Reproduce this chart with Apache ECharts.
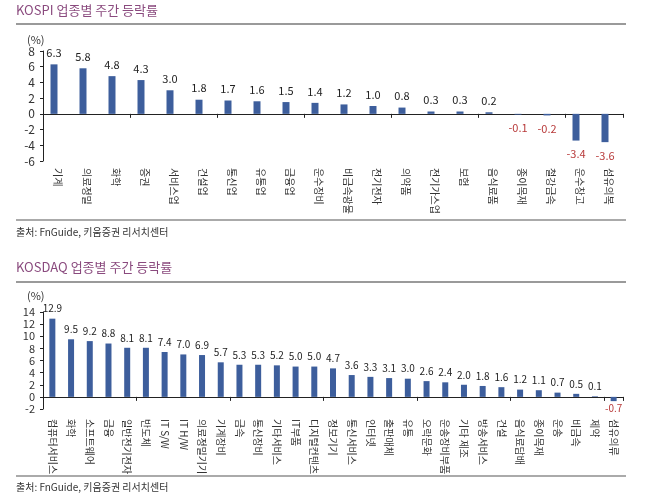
<!DOCTYPE html>
<html>
<head>
<meta charset="utf-8">
<script src="https://cdn.jsdelivr.net/npm/echarts@6/dist/echarts.min.js"></script>
<style>
html,body{margin:0;padding:0;background:#fff;}
#c{width:658px;height:499px;}
</style>
</head>
<body>
<div id="c"></div>
<script>
const kospiCats = ['기계','의료정밀','화학','증권','서비스업','건설업','통신업','유통업','금융업','운수장비','비금속광물','전기전자','의약품','전기가스업','보험','음식료품','종이목재','철강금속','운수창고','섬유의복'];
const kospiValues = [6.3,5.8,4.8,4.3,3.0,1.8,1.7,1.6,1.5,1.4,1.2,1.0,0.8,0.3,0.3,0.2,-0.1,-0.2,-3.4,-3.6];
const kosdaqCats = ['컴퓨터서비스','화학','소프트웨어','금융','일반전기전자','반도체','IT S/W','IT H/W','의료정밀기기','기계장비','금속','통신장비','기타서비스','IT부품','디지털컨텐츠','정보기기','통신서비스','인터넷','출판매체','유통','오락문화','운송장비부품','기타 제조','방송서비스','건설','음식료담배','종이목재','운송','비금속','제약','섬유의류'];
const kosdaqValues = [12.9,9.5,9.2,8.8,8.1,8.1,7.4,7.0,6.9,5.7,5.3,5.3,5.2,5.0,5.0,4.7,3.6,3.3,3.1,3.0,2.6,2.4,2.0,1.8,1.6,1.2,1.1,0.7,0.5,0.1,-0.7];
const kospiAxis = {min:-6, max:8, interval:2};
const kosdaqAxis = {min:-2, max:14, interval:2};

const FONT = '"Noto Sans CJK KR", "Noto Sans", sans-serif';
const BAR = '#3d5e9c';
const NEG = '#b83a3a';
const TITLE = '#8a4a7e';

function mkData(vals, fs, dpos, dneg){
  return vals.map(v => ({
    value: v,
    label: {
      color: v < 0 ? NEG : '#222',
      position: v < 0 ? 'bottom' : 'top',
      distance: v < 0 ? dneg : dpos,
      fontSize: fs
    }
  }));
}

function yAx(gi, ax, fs){
  return {
    type:'value', gridIndex:gi, min:ax.min, max:ax.max, interval:ax.interval,
    splitLine:{show:false},
    axisLine:{show:true, lineStyle:{color:'#222', width:1}},
    axisTick:{show:true, inside:false, length:3, lineStyle:{color:'#222'}},
    axisLabel:{fontFamily:FONT, fontSize:fs, color:'#333', margin:8}
  };
}
function xAxMain(gi, cats){
  return {
    type:'category', gridIndex:gi, data:cats,
    axisLine:{show:true, onZero:true, lineStyle:{color:'#222', width:1}},
    axisTick:{show:true, length:4, lineStyle:{color:'#222'}},
    axisLabel:{show:false}
  };
}
function xAxLabels(gi, cats, fs, margin){
  return {
    type:'category', gridIndex:gi, data:cats, position:'bottom',
    axisLine:{show:false, onZero:false}, axisTick:{show:false},
    axisLabel:{show:true, interval:0, rotate:-90, fontFamily:FONT, fontSize:fs, color:'#333', margin:margin}
  };
}

const chart = echarts.init(document.getElementById('c'), null, {renderer:'canvas'});
chart.setOption({
  animation:false,
  backgroundColor:'#fff',
  textStyle:{fontFamily:FONT},
  grid:[
    {left:43, right:35, top:51, height:110},
    {left:43, right:35, top:312, height:97}
  ],
  xAxis:[
    xAxMain(0, kospiCats), xAxLabels(0, kospiCats, 10, 7),
    xAxMain(1, kosdaqCats), xAxLabels(1, kosdaqCats, 10, 10)
  ],
  yAxis:[ yAx(0, kospiAxis, 12), yAx(1, kosdaqAxis, 11) ],
  series:[
    {type:'bar', xAxisIndex:0, yAxisIndex:0, barWidth:7, barGap:'0%',
     itemStyle:{color:BAR},
     label:{show:true, fontFamily:FONT, formatter:p=>p.value.toFixed(1)},
     data:mkData(kospiValues, 11, 6, 8)},
    {type:'bar', xAxisIndex:0, yAxisIndex:0, barWidth:7, barGap:'0%',
     itemStyle:{color:BAR}, data:kospiCats.map(()=>null)},
    {type:'bar', xAxisIndex:2, yAxisIndex:1, barWidth:6,
     itemStyle:{color:BAR},
     label:{show:true, fontFamily:FONT, formatter:p=>p.value.toFixed(1)},
     data:mkData(kosdaqValues, 10, 5, 2)}
  ],
  graphic:[
    {type:'text', left:16, top:4, style:{text:'KOSPI 업종별 주간 등락률', font:'13px '+FONT, fill:TITLE}},
    {type:'line', shape:{x1:16,y1:24,x2:626,y2:24}, style:{stroke:'#9a9a9a', lineWidth:2}},
    {type:'text', left:27, top:34, style:{text:'(%)', font:'11px '+FONT, fill:'#333'}},
    {type:'line', shape:{x1:16,y1:220,x2:626,y2:220}, style:{stroke:'#aaaaaa', lineWidth:2}},
    {type:'text', left:16, top:227, style:{text:'출처: FnGuide, 키움증권 리서치센터', font:'10px '+FONT, fill:'#333'}},
    {type:'text', left:16, top:261, style:{text:'KOSDAQ 업종별 주간 등락률', font:'13px '+FONT, fill:TITLE}},
    {type:'line', shape:{x1:16,y1:282,x2:626,y2:282}, style:{stroke:'#9a9a9a', lineWidth:2}},
    {type:'text', left:27, top:290, style:{text:'(%)', font:'11px '+FONT, fill:'#333'}},
    {type:'line', shape:{x1:16,y1:476,x2:626,y2:476}, style:{stroke:'#aaaaaa', lineWidth:2}},
    {type:'text', left:16, top:482, style:{text:'출처: FnGuide, 키움증권 리서치센터', font:'10px '+FONT, fill:'#333'}}
  ]
});
</script>
</body>
</html>
